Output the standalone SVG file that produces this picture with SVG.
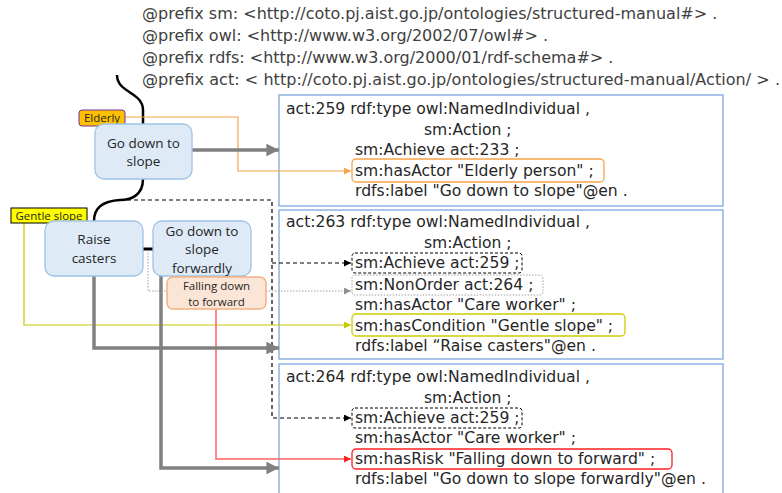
<svg xmlns="http://www.w3.org/2000/svg" width="782" height="493" viewBox="0 0 782 493">
<defs>
<style>
.pre{font-family:"DejaVu Sans","Liberation Sans",sans-serif;font-size:16px;fill:#404040}
.ttl{font-family:"DejaVu Sans","Liberation Sans",sans-serif;font-size:15.6px;fill:#262626}
.nd{font-family:"Open Sans","Liberation Sans",sans-serif;font-size:13.5px;fill:#262626;text-anchor:middle}
.sm{font-family:"Open Sans","Liberation Sans",sans-serif;font-size:11.5px;fill:#262626;text-anchor:middle}
.node{fill:#DEEBF7;stroke:#9DC3E6;stroke-width:1.3}
.panel{fill:#fff;stroke:#8DB3E2;stroke-width:1.5}
.gray{fill:none;stroke:#808080;stroke-width:3.5}
</style>
<marker id="ag" viewBox="0 0 10 10" refX="10" refY="5" markerWidth="4" markerHeight="3.6" markerUnits="strokeWidth" orient="auto"><path d="M0,0L10,5L0,10z" fill="#808080"/></marker>
<marker id="ab" viewBox="0 0 10 10" refX="10" refY="5" markerWidth="8" markerHeight="7" markerUnits="userSpaceOnUse" orient="auto"><path d="M0,0L10,5L0,10z" fill="#000"/></marker>
<marker id="agr" viewBox="0 0 10 10" refX="10" refY="5" markerWidth="8" markerHeight="7" markerUnits="userSpaceOnUse" orient="auto"><path d="M0,0L10,5L0,10z" fill="#909090"/></marker>
<marker id="ao" viewBox="0 0 10 10" refX="10" refY="5" markerWidth="8" markerHeight="7" markerUnits="userSpaceOnUse" orient="auto"><path d="M0,0L10,5L0,10z" fill="#F7A34B"/></marker>
<marker id="ay" viewBox="0 0 10 10" refX="10" refY="5" markerWidth="8" markerHeight="7" markerUnits="userSpaceOnUse" orient="auto"><path d="M0,0L10,5L0,10z" fill="#C8C800"/></marker>
<marker id="ar" viewBox="0 0 10 10" refX="10" refY="5" markerWidth="8" markerHeight="7" markerUnits="userSpaceOnUse" orient="auto"><path d="M0,0L10,5L0,10z" fill="#FF2020"/></marker>
</defs>
<rect width="782" height="493" fill="#fff"/>

<g id="prefixes">
<text class="pre" x="142" y="19">@prefix sm: &lt;http://coto.pj.aist.go.jp/ontologies/structured-manual#&gt; .</text>
<text class="pre" x="142" y="41">@prefix owl: &lt;http://www.w3.org/2002/07/owl#&gt; .</text>
<text class="pre" x="142" y="63">@prefix rdfs: &lt;http://www.w3.org/2000/01/rdf-schema#&gt; .</text>
<text class="pre" x="142" y="85" textLength="638">@prefix act: &lt; http://coto.pj.aist.go.jp/ontologies/structured-manual/Action/ &gt; .</text>
</g>

<g id="act259">
<rect class="panel" x="279" y="95" width="444" height="111"/>
<rect x="352" y="159" width="252" height="23" rx="4" fill="none" stroke="#F7A34B" stroke-width="1.3"/>
<text class="ttl" x="286" y="114">act:259 rdf:type owl:NamedIndividual ,</text>
<text class="ttl" x="424" y="134.5">sm:Action ;</text>
<text class="ttl" x="355" y="155">sm:Achieve act:233 ;</text>
<text class="ttl" x="355" y="175.5">sm:hasActor "Elderly person" ;</text>
<text class="ttl" x="355" y="196">rdfs:label "Go down to slope"@en .</text>
</g>

<g id="act263">
<rect class="panel" x="279" y="210" width="444" height="149"/>
<rect x="352" y="253" width="170" height="20" rx="3" fill="none" stroke="#000" stroke-width="1" stroke-dasharray="3,2"/>
<rect x="352" y="275" width="191" height="20" rx="3" fill="none" stroke="#A0A0A0" stroke-width="1" stroke-dasharray="1.5,1.5"/>
<rect x="352" y="314" width="273" height="22" rx="4" fill="none" stroke="#CCCC00" stroke-width="1.3"/>
<text class="ttl" x="286" y="227">act:263 rdf:type owl:NamedIndividual ,</text>
<text class="ttl" x="424" y="247.5">sm:Action ;</text>
<text class="ttl" x="355" y="268">sm:Achieve act:259 ;</text>
<text class="ttl" x="355" y="290">sm:NonOrder act:264 ;</text>
<text class="ttl" x="355" y="310">sm:hasActor "Care worker" ;</text>
<text class="ttl" x="355" y="331">sm:hasCondition "Gentle slope" ;</text>
<text class="ttl" x="355" y="351">rdfs:label “Raise casters"@en .</text>
</g>

<g id="act264">
<rect class="panel" x="279" y="364" width="444" height="140"/>
<rect x="352" y="408" width="170" height="20" rx="3" fill="none" stroke="#000" stroke-width="1" stroke-dasharray="3,2"/>
<rect x="352" y="449" width="320" height="20" rx="4" fill="none" stroke="#FF2020" stroke-width="1.3"/>
<text class="ttl" x="286" y="382">act:264 rdf:type owl:NamedIndividual ,</text>
<text class="ttl" x="424" y="403">sm:Action ;</text>
<text class="ttl" x="355" y="423">sm:Achieve act:259 ;</text>
<text class="ttl" x="355" y="443">sm:hasActor "Care worker" ;</text>
<text class="ttl" x="355" y="463.5">sm:hasRisk "Falling down to forward" ;</text>
<text class="ttl" x="355" y="484">rdfs:label "Go down to slope forwardly"@en .</text>
</g>

<g id="connectors">
<path d="M117,75 C117,93 143,92 143,110 L143,124" fill="none" stroke="#000" stroke-width="2.5"/>
<path d="M143,179 C143,196 130,200 120,200 C101,201 94,209 94,221" fill="none" stroke="#000" stroke-width="2.5"/>
<path d="M143,249 H153" fill="none" stroke="#000" stroke-width="3"/>
<path d="M148,250 V291 H351" fill="none" stroke="#A0A0A0" stroke-width="1" stroke-dasharray="1.5,1.5" marker-end="url(#agr)"/>
<path d="M127,200 H272 V418 H351" fill="none" stroke="#000" stroke-width="1.2" stroke-dasharray="4,3" marker-end="url(#ab)"/>
<path d="M272,263 H351" fill="none" stroke="#000" stroke-width="1.2" stroke-dasharray="4,3" marker-end="url(#ab)"/>
<path d="M125,117 H238 V171 H351" fill="none" stroke="#F7A34B" stroke-width="1.2" marker-end="url(#ao)"/>
<path d="M24,223 V325 H351" fill="none" stroke="#C8C800" stroke-width="1.2" marker-end="url(#ay)"/>
<path d="M216,309 V459 H351" fill="none" stroke="#FF6060" stroke-width="1.5" marker-end="url(#ar)"/>
<path class="gray" d="M192,150 H279" marker-end="url(#ag)"/>
<path class="gray" d="M94,276 V348 H279" marker-end="url(#ag)"/>
<path class="gray" d="M161,276 V468 H279" marker-end="url(#ag)"/>
</g>

<g id="elderly">
<rect x="79" y="110" width="46" height="16" rx="3" fill="#FFC000" stroke="#7030A0" stroke-width="1"/>
<text class="sm" x="102" y="122">Elderly</text>
</g>
<g id="godown">
<rect class="node" x="95" y="124" width="97" height="55" rx="9"/>
<text class="nd" x="143.5" y="148">Go down to</text>
<text class="nd" x="143.5" y="166">slope</text>
</g>
<g id="gentle">
<rect x="11" y="208" width="76" height="15" fill="#FFFF00" stroke="#000" stroke-width="1"/>
<text class="sm" x="49" y="220">Gentle slope</text>
</g>
<g id="raise">
<rect class="node" x="45" y="221" width="98" height="55" rx="9"/>
<text class="nd" x="94" y="244">Raise</text>
<text class="nd" x="94" y="263">casters</text>
</g>
<g id="forwardly">
<rect class="node" x="153" y="221" width="98" height="55" rx="9"/>
<text class="nd" x="202" y="236">Go down to</text>
<text class="nd" x="202" y="254">slope</text>
<text class="nd" x="202" y="273">forwardly</text>
</g>
<g id="falling">
<rect x="167" y="277" width="99" height="32" rx="6" fill="#FBE5D6" stroke="#F4B183" stroke-width="1.5"/>
<text class="sm" x="216.5" y="289.5">Falling down</text>
<text class="sm" x="216.5" y="305.5">to forward</text>
</g>
</svg>
